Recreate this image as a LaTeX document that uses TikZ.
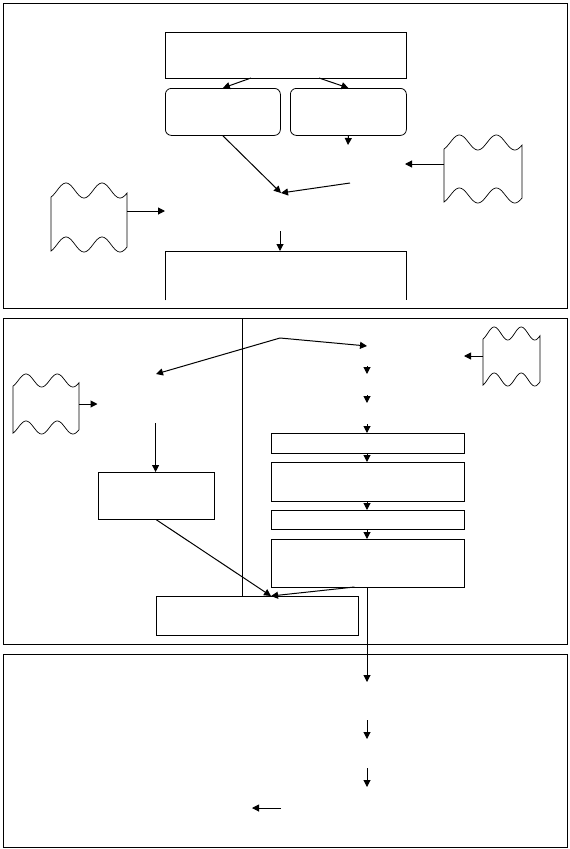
\documentclass[tikz,border=0pt]{standalone}
\usetikzlibrary{arrows.meta,calc}
\tikzset{
  panel/.style={draw, line width=1.1pt},
  box/.style={draw, line width=0.8pt, inner sep=0pt, anchor=north west},
  rbox/.style={box, rounded corners=6pt},
  ghost/.style={inner sep=0pt, anchor=north west},
  docline/.style={line width=0.7pt},
  arr/.style={line width=1pt, -{Triangle[length=7pt,width=7pt]}},
  divider/.style={line width=0.7pt}
}
\newcommand\wavydoc[4]{% name, width, height, amplitude
  \draw[docline, shift={(#1.north west)}]
    plot[domain=0:1, samples=60, smooth] ({#2*\x}, {#4 - #4*sin(760*\x-60)})
    -- plot[domain=1:0, samples=60, smooth] ({#2*\x}, {#3 - #4 - #4*sin(760*\x-60)})
    -- cycle;
}
\begin{document}
\begin{tikzpicture}[x=1pt, y=-1pt]
\useasboundingbox (0,0) rectangle (570,849);
\fill[white] (0,0) rectangle (570,849);

% ---------- panel 1 ----------
\node[panel, ghost, minimum width=564pt, minimum height=305pt] (p1) at (3,3) {};
\node[box, minimum width=241pt, minimum height=46pt] (top) at (165,32) {};
\node[rbox, minimum width=115pt, minimum height=47pt] (lr) at (165,88) {};
\node[rbox, minimum width=116pt, minimum height=47pt] (rr) at (290,88) {};
\node[ghost, minimum width=241pt, minimum height=49pt] (bb) at (165,251) {};
\draw[line width=0.8pt] (bb.south west) -- (bb.north west) -- (bb.north east) -- (bb.south east);
\node[ghost, minimum width=76pt, minimum height=69pt] (docL) at (51,183) {};
\wavydoc{docL}{76}{69}{7.5}
\node[ghost, minimum width=78pt, minimum height=68pt] (docR) at (444,135) {};
\wavydoc{docR}{78}{68}{7.5}

\coordinate (t1) at (251,78);
\coordinate (t2) at (319,78);
\coordinate (c1) at (348,145);
\coordinate (m1) at (281,193);
\coordinate (m2) at (350,183);
\coordinate (c2) at (405,164);
\coordinate (c3) at (165,211);
\coordinate (c4) at (280,231);
\draw[arr] (t1) -- (lr.north);
\draw[arr] (t2) -- (rr.north);
\draw[arr] (rr.south) -- (c1);
\draw[arr] (lr.south) -- (m1);
\draw[arr] (m2) -- (m1);
\draw[arr] (docR.west |- c2) -- (c2);
\draw[arr] (docL.east |- c3) -- (c3);
\draw[arr] (c4) -- (c4 |- bb.north);

% ---------- panel 2 ----------
\node[panel, ghost, minimum width=564pt, minimum height=326pt] (p2) at (3,318) {};
\node[box, minimum width=193pt, minimum height=20pt] (r1) at (271,433) {};
\node[box, minimum width=193pt, minimum height=39pt] (r2) at (271,462) {};
\node[box, minimum width=193pt, minimum height=19pt] (r3) at (271,510) {};
\node[box, minimum width=193pt, minimum height=48pt] (r4) at (271,539) {};
\node[box, minimum width=116pt, minimum height=47pt] (lb) at (98,472) {};
\node[box, minimum width=202pt, minimum height=39pt] (b2) at (156,596) {};
\node[ghost, minimum width=66pt, minimum height=60pt] (docL2) at (13,374) {};
\wavydoc{docL2}{66}{60}{6.5}
\node[ghost, minimum width=57pt, minimum height=59pt] (docR2) at (483,327) {};
\wavydoc{docR2}{57}{59}{6.5}

\coordinate (dtop) at (242.5,318);
\draw[divider] (dtop) -- (dtop |- b2.north);

\coordinate (s) at (280,338);
\coordinate (sl) at (156,374);
\coordinate (sr) at (367,346);
\coordinate (e1) at (464,356);
\coordinate (a1s) at (367,366);
\coordinate (a1e) at (367,374);
\coordinate (a2s) at (367,395);
\coordinate (a2e) at (367,403);
\coordinate (a3s) at (367,424);
\coordinate (e2) at (97.5,404);
\coordinate (g1) at (155.6,423);
\coordinate (j) at (271,596);
\coordinate (r4b) at (354.5,587);
\draw[arr] (s) -- (sl);
\draw[arr] (s) -- (sr);
\draw[arr] (docR2.west |- e1) -- (e1);
\draw[arr] (a1s) -- (a1e);
\draw[arr] (a2s) -- (a2e);
\draw[arr] (a3s) -- (a3s |- r1.north);
\draw[arr] (r1.south -| a3s) -- (a3s |- r2.north);
\draw[arr] (r2.south -| a3s) -- (a3s |- r3.north);
\draw[arr] (r3.south -| a3s) -- (a3s |- r4.north);
\draw[arr] (docL2.east |- e2) -- (e2);
\draw[arr] (g1) -- (g1 |- lb.north);
\draw[arr] (lb.south) -- (j);
\draw[arr] (r4b) -- (j);

% ---------- panel 3 ----------
\node[panel, ghost, minimum width=564pt, minimum height=193pt] (p3) at (3,654) {};
\coordinate (q1) at (367,682);
\coordinate (q2s) at (367,720);
\coordinate (q2e) at (367,739);
\coordinate (q3s) at (367,768);
\coordinate (q3e) at (367,787);
\coordinate (q4s) at (281,808);
\coordinate (q4e) at (252,808);
\draw[arr] (r4.south -| q1) -- (q1);
\draw[arr] (q2s) -- (q2e);
\draw[arr] (q3s) -- (q3e);
\draw[arr] (q4s) -- (q4e);
\end{tikzpicture}
\end{document}
